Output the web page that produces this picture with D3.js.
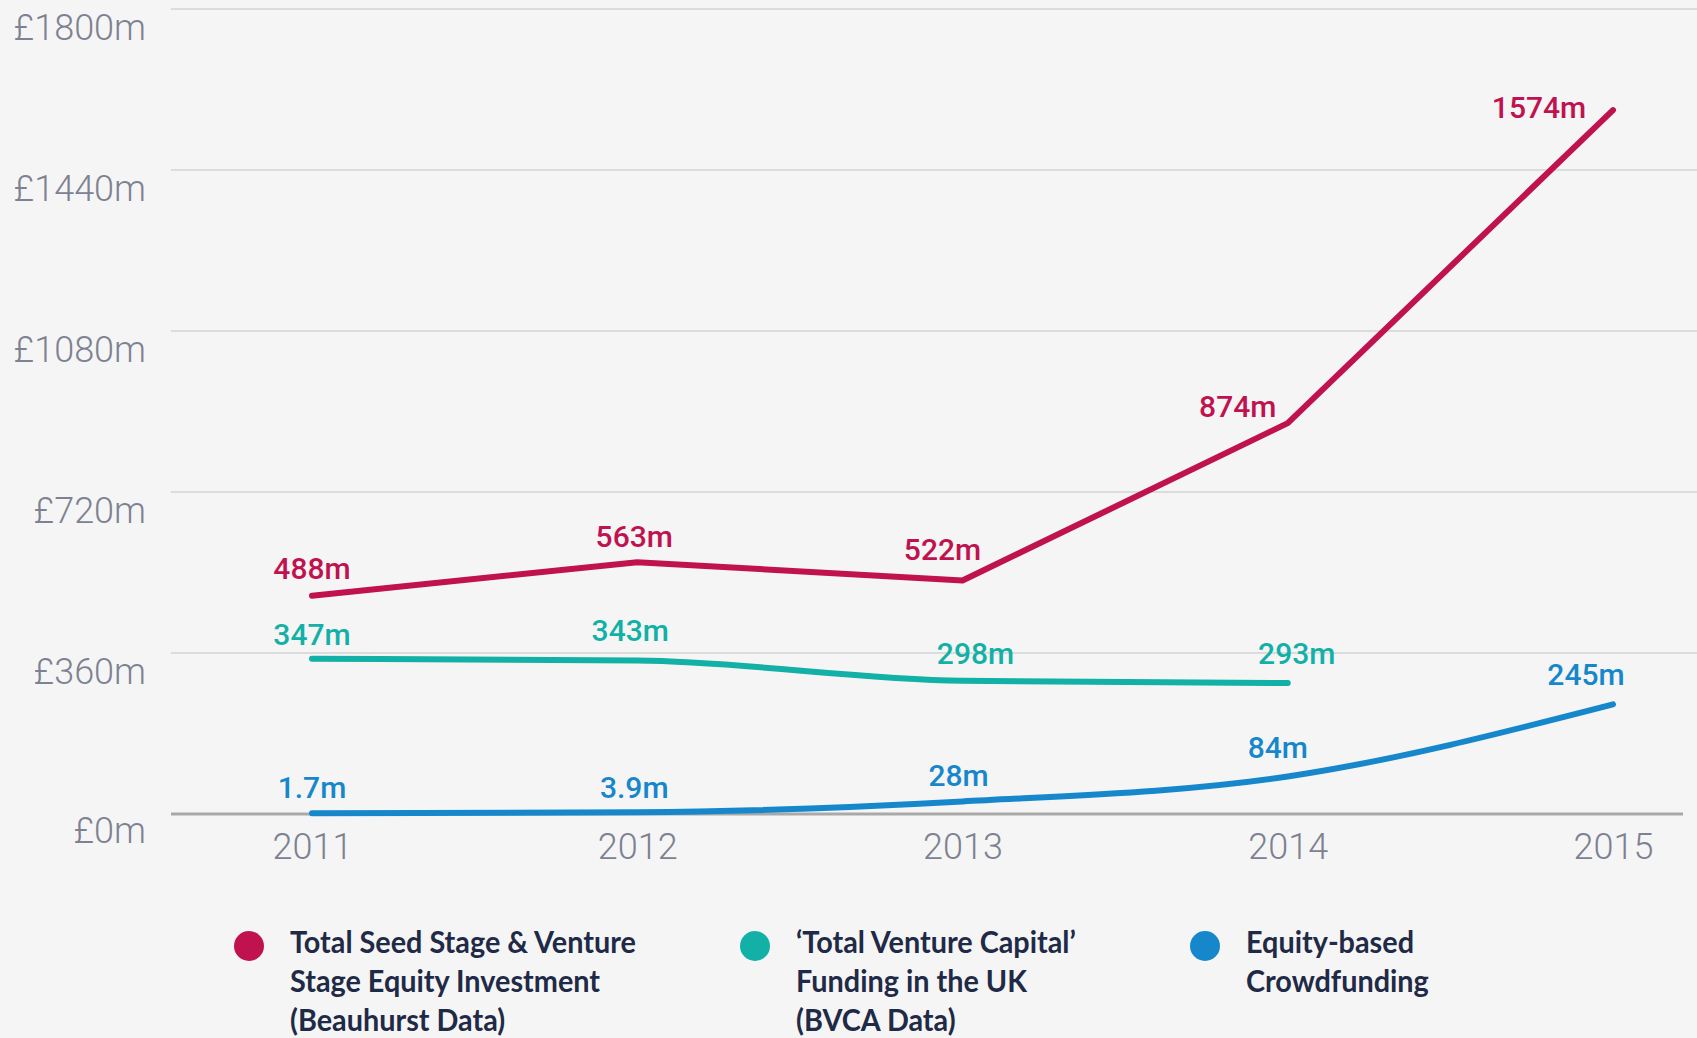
<!DOCTYPE html>
<html><head><meta charset="utf-8">
<script src="https://cdn.jsdelivr.net/npm/d3@7"></script>
<style>
html,body{margin:0;padding:0;background:#f5f5f5;}
svg{display:block;}
</style></head>
<body>
<script>
const years = [2011, 2012, 2013, 2014, 2015];
const yTicks = [0, 360, 720, 1080, 1440, 1800];
const seedVenture = [488, 563, 522, 874, 1574];
const seedVentureLabels = ["488m", "563m", "522m", "874m", "1574m"];
const bvca = [347, 343, 298, 293];
const bvcaLabels = ["347m", "343m", "298m", "293m"];
const crowd = [1.7, 3.9, 28, 84, 245];
const crowdLabels = ["1.7m", "3.9m", "28m", "84m", "245m"];
const legendLines = [
  ["Total Seed Stage & Venture", "Stage Equity Investment", "(Beauhurst Data)"],
  ["\u2018Total Venture Capital\u2019", "Funding in the UK", "(BVCA Data)"],
  ["Equity-based", "Crowdfunding"]
];

const W = 1697, H = 1038;
const colors = ["#c0124f", "#12b0a6", "#1787cc"];
// label offsets (layout only)
const labelOffsets = [
  [[0,-28],[-3,-26],[-20,-31],[-50,-17],[-74,-3]],
  [[0,-25],[-7,-30],[13,-28],[9,-30]],
  [[0,-26],[-3,-25],[-4,-26],[-10,-29],[-27,-30]]
];

const svg = d3.select("body").append("svg").attr("width", W).attr("height", H);
svg.append("rect").attr("width", W).attr("height", H).attr("fill", "#f5f5f5");

const x = d3.scalePoint().domain(years).range([312, 1613]);
const y = d3.scaleLinear().domain([0, 1800]).range([814, 9]);

// gridlines
svg.append("g").selectAll("line").data(yTicks.filter(d => d > 0)).join("line")
  .attr("x1", 171).attr("x2", 1697)
  .attr("y1", d => y(d)).attr("y2", d => y(d))
  .attr("stroke", "#dcdcdc").attr("stroke-width", 2);
svg.append("line").attr("x1", 171).attr("x2", 1683)
  .attr("y1", y(0)).attr("y2", y(0))
  .attr("stroke", "#a9a9a9").attr("stroke-width", 3);

// y axis labels
const yAxis = d3.axisLeft(y).tickValues(yTicks).tickFormat(d => "\u00a3" + d + "m").tickSize(0).tickPadding(0);
const ya = svg.append("g").attr("transform", "translate(146,0)").call(yAxis);
ya.select(".domain").remove();
ya.selectAll("text").attr("font-family", "Roboto").attr("font-weight", 300)
  .attr("font-size", 36).attr("fill", "#7d8191");
ya.selectAll(".tick").filter(d => d === 0).select("text").attr("dy", "0.78em");
ya.selectAll(".tick").filter(d => d === 1800).select("text").attr("dy", "0.85em");
ya.selectAll(".tick").filter(d => d > 0 && d < 1800).select("text").attr("dy", "0.85em");

// x axis labels
const xAxis = d3.axisBottom(x).tickSize(0).tickPadding(0).tickFormat(d => String(d));
const xa = svg.append("g").attr("transform", "translate(0,833)").call(xAxis);
xa.select(".domain").remove();
xa.selectAll("text").attr("font-family", "Roboto").attr("font-weight", 300)
  .attr("font-size", 36).attr("fill", "#7d8191").attr("dy", "0.72em");

const series = [
  {vals: seedVenture, labels: seedVentureLabels, curve: d3.curveLinear},
  {vals: bvca, labels: bvcaLabels, curve: d3.curveMonotoneX},
  {vals: crowd, labels: crowdLabels, curve: d3.curveMonotoneX}
];
[2, 1, 0].forEach(i => {
  const s = series[i];
  const line = d3.line().x((d, j) => x(years[j])).y(d => y(d)).curve(s.curve);
  svg.append("path").datum(s.vals).attr("d", line)
    .attr("fill", "none").attr("stroke", colors[i]).attr("stroke-width", 6)
    .attr("stroke-linecap", "round").attr("stroke-linejoin", "round");
});
series.forEach((s, i) => {
  svg.append("g").selectAll("text").data(s.vals).join("text")
    .attr("x", (d, j) => x(years[j]) + labelOffsets[i][j][0])
    .attr("y", (d, j) => y(d) + labelOffsets[i][j][1])
    .attr("dy", "0.36em")
    .attr("text-anchor", "middle")
    .attr("font-family", "Roboto").attr("font-weight", 500).attr("font-size", 30)
    .attr("fill", colors[i])
    .text((d, j) => s.labels[j]);
});

// legend
const legX = [249, 755, 1205];
let scaleX = null;
legendLines.forEach((lines, i) => {
  const g = svg.append("g");
  g.append("circle").attr("cx", legX[i]).attr("cy", 946).attr("r", 15).attr("fill", colors[i]);
  const tg = g.append("g").attr("transform", `translate(${legX[i] + 41},0)`);
  lines.forEach((t, k) => {
    tg.append("text").attr("x", 0).attr("y", 942 + k * 39).attr("dy", "0.36em")
      .attr("font-family", "Lato").attr("font-weight", 700).attr("font-size", 30)
      .attr("fill", "#1f2a47").text(t);
  });
  if (scaleX === null) {
    const w = tg.select("text").node().getComputedTextLength();
    scaleX = 346 / w;
  }
  tg.attr("transform", `translate(${legX[i] + 41},0) scale(${scaleX},1)`);
});
</script>
</body></html>
